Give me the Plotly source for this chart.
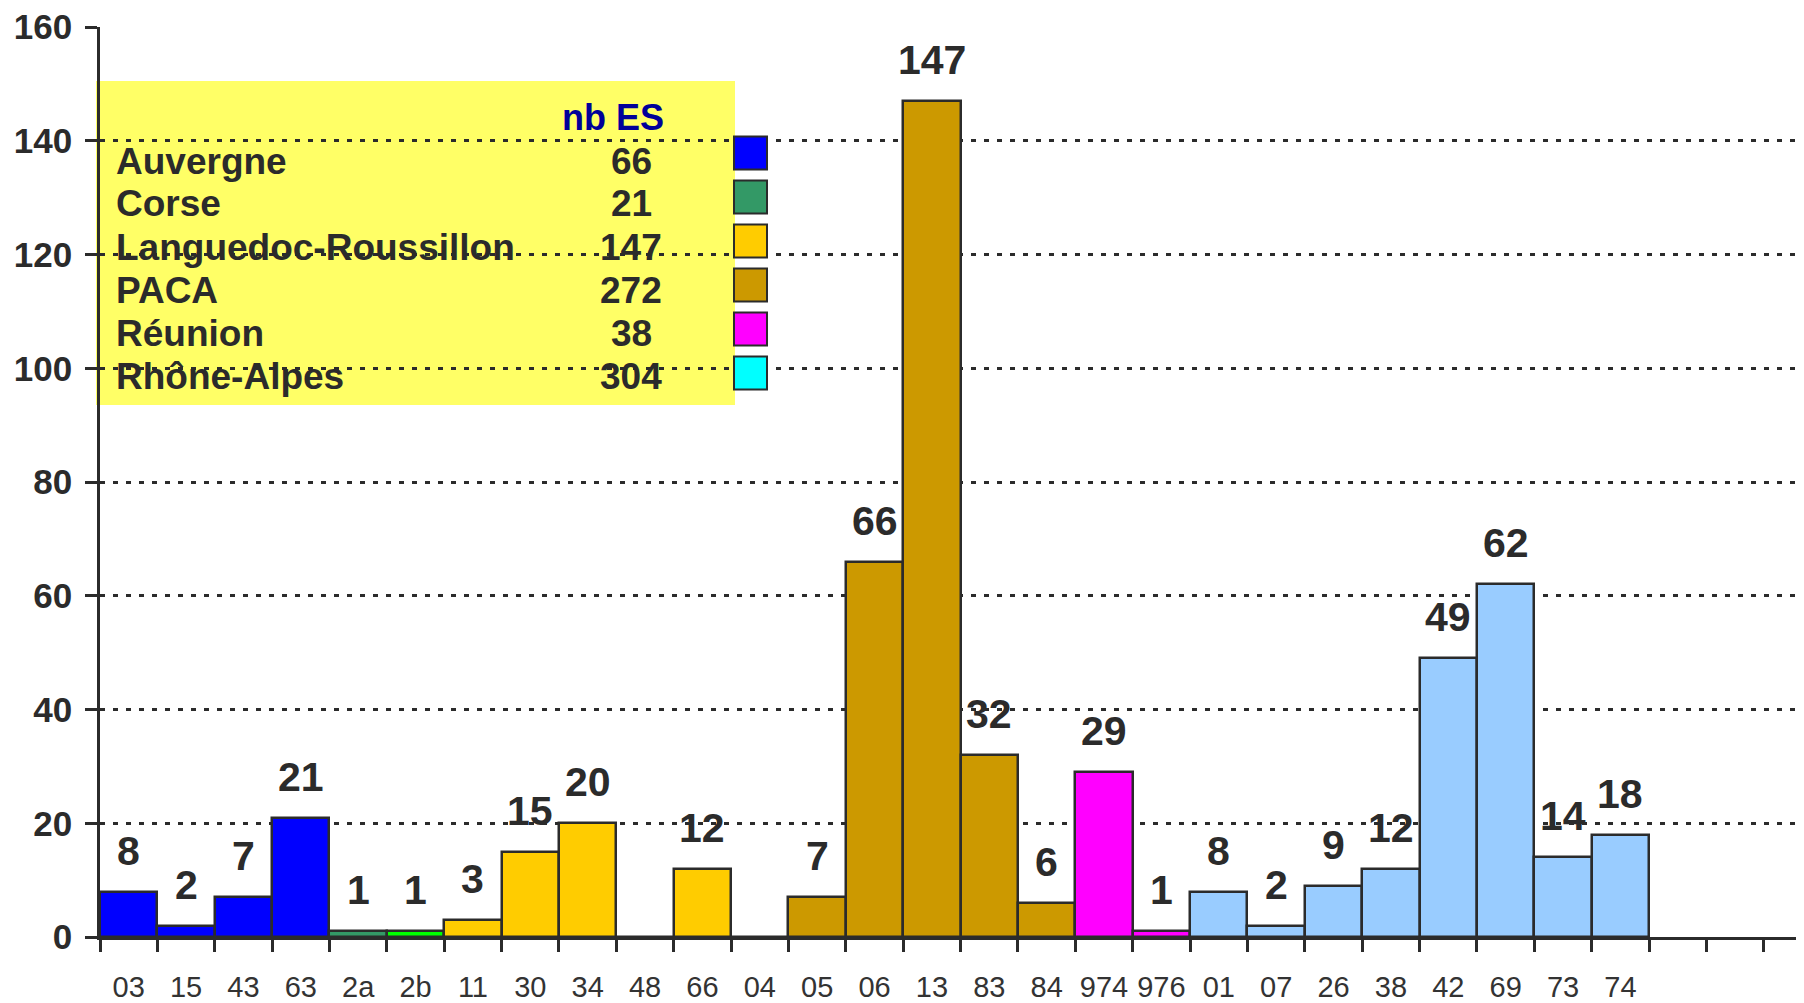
import plotly.graph_objects as go

# ---- data ----
codes = ["03", "15", "43", "63", "2a", "2b", "11", "30", "34", "48", "66", "04", "05", "06",
         "13", "83", "84", "974", "976", "01", "07", "26", "38", "42", "69", "73", "74"]
values = [8, 2, 7, 21, 1, 1, 3, 15, 20, 0, 12, 0, 7, 66,
          147, 32, 6, 29, 1, 8, 2, 9, 12, 49, 62, 14, 18]
bar_colors = ["#0000FF", "#0000FF", "#0000FF", "#0000FF", "#339966", "#00FF00",
              "#FFCC00", "#FFCC00", "#FFCC00", "#FFCC00", "#FFCC00",
              "#CC9900", "#CC9900", "#CC9900", "#CC9900", "#CC9900", "#CC9900",
              "#FF00FF", "#FF00FF",
              "#99CCFF", "#99CCFF", "#99CCFF", "#99CCFF", "#99CCFF", "#99CCFF", "#99CCFF", "#99CCFF"]

regions = ["Auvergne", "Corse", "Languedoc-Roussillon", "PACA", "Réunion", "Rhône-Alpes"]
nb_es = [66, 21, 147, 272, 38, 304]
region_colors = ["#0000FF", "#339966", "#FFCC00", "#CC9900", "#FF00FF", "#00FFFF"]
legend_title = "nb ES"

y_ticks = [0, 20, 40, 60, 80, 100, 120, 140, 160]

# ---- layout geometry (page pixels; the page body adds an 8px offset) ----
PAGE_W, PAGE_H = 1804, 1003
OFF = 8
W, H = PAGE_W - OFF, PAGE_H - OFF
PLOT_L, PLOT_T, PLOT_B = 100, 27, 937      # page coordinates of the plot area
L, T, B, R = PLOT_L - OFF, PLOT_T - OFF, PAGE_H - PLOT_B, 0
PW = W - L - R
PH = H - T - B
n_slots = 29.7  # visible category slots on the axis

def px(xp):
    return (xp - PLOT_L) / PW

def py(yp):
    return (PLOT_B - yp) / PH

DARK = "#2b2b2b"
SANS = "Liberation Sans, Arial, sans-serif"
NARROW = "Liberation Sans Narrow, Arial Narrow, Liberation Sans, sans-serif"

x_idx = list(range(len(codes)))

fig = go.Figure()
fig.add_trace(go.Bar(
    x=x_idx, y=values, width=1.0,
    marker=dict(color=bar_colors, line=dict(color=DARK, width=2.5)),
    hoverinfo="skip", showlegend=False,
))

annotations = []
for i, v in zip(x_idx, values):
    if v:
        annotations.append(dict(
            x=i, y=v, xref="x", yref="y", text="<b>%d</b>" % v, showarrow=False,
            yanchor="middle", xanchor="center", yshift=41,
            font=dict(family=SANS, size=41, color=DARK),
        ))

# legend table
annotations.append(dict(
    x=px(666), y=py(117.5), xref="paper", yref="paper", text="<b>%s</b>" % legend_title,
    showarrow=False, xanchor="right", yanchor="middle",
    font=dict(family=SANS, size=36, color="#000099"),
))
shapes = [dict(type="rect", xref="paper", yref="paper", x0=px(96), x1=px(735),
               y0=py(405), y1=py(81), fillcolor="#FFFF66", line=dict(width=0), layer="below")]
for k, (name, nb, col) in enumerate(zip(regions, nb_es, region_colors)):
    yc = 161 + 43 * k
    annotations.append(dict(
        x=px(114), y=py(yc), xref="paper", yref="paper", text="<b>%s</b>" % name,
        showarrow=False, xanchor="left", yanchor="middle",
        font=dict(family=SANS, size=37, color=DARK),
    ))
    annotations.append(dict(
        x=px(631), y=py(yc), xref="paper", yref="paper", text="<b>%d</b>" % nb,
        showarrow=False, xanchor="center", yanchor="middle",
        font=dict(family=SANS, size=37, color=DARK),
    ))
    sc = 153 + 44 * k
    shapes.append(dict(type="rect", xref="paper", yref="paper",
                       x0=px(734), x1=px(767), y0=py(sc + 16.5), y1=py(sc - 16.5),
                       fillcolor=col, line=dict(color=DARK, width=2), layer="above"))

fig.update_layout(
    width=W, height=H,
    margin=dict(l=L, r=R, t=T, b=B, pad=0, autoexpand=False),
    paper_bgcolor="white", plot_bgcolor="white",
    bargap=0,
    annotations=annotations, shapes=shapes,
    xaxis=dict(
        range=[-0.5, -0.5 + n_slots], automargin=False,
        tickmode="array", tickvals=x_idx, ticktext=codes,
        ticks="", showgrid=False, zeroline=False,
        showline=True, linecolor=DARK, linewidth=2.5,
        tickfont=dict(family=NARROW, size=29, color="#333333"),
        ticklabelstandoff=22, ticklabeloverflow="allow",
        minor=dict(tickmode="array", tickvals=[i - 0.5 for i in range(31)],
                   ticks="outside", ticklen=12, tickwidth=2.5, tickcolor=DARK, showgrid=False),
    ),
    yaxis=dict(
        range=[0, 160], tickmode="array", tickvals=y_ticks, automargin=False,
        ticks="outside", ticklen=12, tickwidth=2.5, tickcolor=DARK,
        showline=True, linecolor=DARK, linewidth=2.5,
        showgrid=True, gridcolor=DARK, gridwidth=3, griddash="5px,8px",
        zeroline=False,
        tickfont=dict(family=SANS, size=35, color=DARK, weight="bold"),
        ticklabelstandoff=6, ticklabeloverflow="allow",
    ),
)

fig.write_html("out.html")
